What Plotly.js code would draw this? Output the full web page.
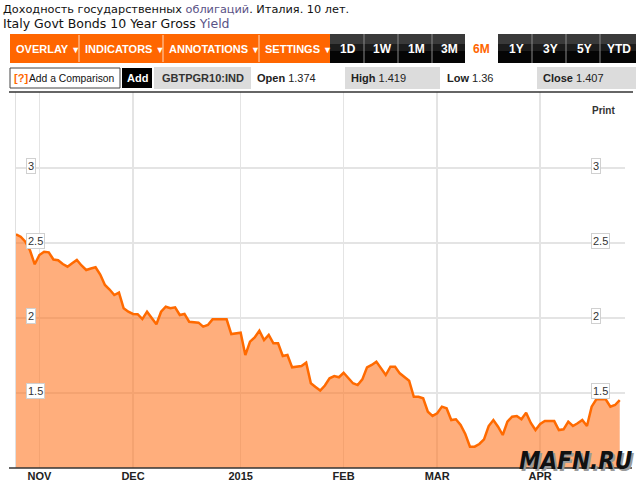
<!DOCTYPE html>
<html>
<head>
<meta charset="utf-8">
<script src="https://cdn.plot.ly/plotly-3.0.1.min.js"></script>
<style>
html,body{margin:0;padding:0;background:#fff;}
#chart{width:636px;height:487px;}
</style>
</head>
<body>
<div id="chart"></div>
<script>
// ---- data ----
const startDate = '2014-10-27';
const yieldValues = [
  2.558, 2.542, 2.509, 2.45, 2.358, 2.42, 2.442, 2.438, 2.39, 2.385,
  2.36, 2.342, 2.365, 2.387, 2.35, 2.32, 2.33, 2.338, 2.29, 2.22,
  2.19, 2.153, 2.169, 2.065, 2.042, 2.027, 2.025, 1.993, 2.042, 1.998,
  1.958, 2.042, 2.075, 2.065, 2.071, 2.02, 2.027, 1.975, 1.972, 1.969,
  1.942, 1.953, 1.991, 1.991, 1.991, 1.991, 1.893, 1.9, 1.902, 1.753,
  1.842, 1.871, 1.915, 1.853, 1.887, 1.831, 1.831, 1.747, 1.753, 1.671,
  1.675, 1.68, 1.702, 1.565, 1.54, 1.516, 1.55, 1.598, 1.613, 1.605,
  1.635, 1.598, 1.565, 1.553, 1.591, 1.671, 1.687, 1.709, 1.665, 1.62,
  1.675, 1.675, 1.631, 1.609, 1.582, 1.475, 1.475, 1.465, 1.375, 1.347,
  1.365, 1.409, 1.398, 1.32, 1.325, 1.287, 1.227, 1.142, 1.142, 1.16,
  1.191, 1.28, 1.32, 1.275, 1.22, 1.309, 1.342, 1.347, 1.325, 1.369,
  1.30, 1.253, 1.293, 1.313, 1.313, 1.313, 1.253, 1.258, 1.309, 1.28,
  1.298, 1.32, 1.28, 1.409, 1.458, 1.46, 1.458, 1.409, 1.42, 1.453
];
const monthTickDates = ['2014-11-03', '2014-12-01', '2015-01-01', '2015-02-02', '2015-03-02', '2015-04-01'];
const monthTickLabels = ['NOV', 'DEC', '2015', 'FEB', 'MAR', 'APR'];
const yTicks = [1.5, 2, 2.5, 3];
const yTickLabels = ['1.5', '2', '2.5', '3'];
const menuItems = ['OVERLAY', 'INDICATORS', 'ANNOTATIONS', 'SETTINGS'];
const periodButtons = ['1D', '1W', '1M', '3M', '6M', '1Y', '3Y', '5Y', 'YTD'];
const activePeriod = '6M';
const ticker = 'GBTPGR10:IND';
const quoteLabels = ['Open', 'High', 'Low', 'Close'];
const quoteValues = ['1.374', '1.419', '1.36', '1.407'];

// trading-day dates (weekdays) for the series
function tradingDays(start, n) {
  const out = [];
  const d = new Date(start + 'T00:00:00Z');
  while (out.length < n) {
    const w = d.getUTCDay();
    if (w !== 0 && w !== 6) out.push(d.toISOString().slice(0, 10));
    d.setUTCDate(d.getUTCDate() + 1);
  }
  return out;
}
const dates = tradingDays(startDate, yieldValues.length);

// ---- layout geometry helpers (pixel -> paper) ----
const W = 636, H = 487;
const M = {l: 16, r: 11, t: 92, b: 19};
const PW = W - M.l - M.r, PH = H - M.t - M.b;
const px = x => (x - M.l) / PW;
const py = y => (H - M.b - y) / PH;

const shapes = [];
const ann = [];
function rect(x0, y0, x1, y1, fill, line) {
  shapes.push({type: 'rect', xref: 'paper', yref: 'paper', x0: px(x0), x1: px(x1), y0: py(y1), y1: py(y0),
    fillcolor: fill, line: line || {width: 0}, layer: 'above'});
}
function hline(x0, x1, y, color, w) {
  shapes.push({type: 'line', xref: 'paper', yref: 'paper', x0: px(x0), x1: px(x1), y0: py(y), y1: py(y),
    line: {color: color, width: w}, layer: 'above'});
}
function vline(x, y0, y1, color, w) {
  shapes.push({type: 'line', xref: 'paper', yref: 'paper', x0: px(x), x1: px(x), y0: py(y0), y1: py(y1),
    line: {color: color, width: w}, layer: 'above'});
}
function text(t, x, y, opts) {
  opts = opts || {};
  ann.push(Object.assign({text: t, xref: 'paper', yref: 'paper', x: px(x), y: py(y), showarrow: false,
    xanchor: opts.xanchor || 'left', yanchor: 'middle',
    font: {family: opts.family || 'Liberation Sans, Arial, sans-serif', size: opts.size || 11, color: opts.color || '#222'}},
    opts.extra || {}));
}

// header
const purple = '#5a5386';
text('Доходность государственных <span style="color:' + purple + '">облигаций</span>. Италия. 10 лет.', 1, 9,
  {family: 'DejaVu Sans, Verdana, sans-serif', size: 11.3, color: '#111'});
text('Italy Govt Bonds 10 Year Gross <span style="color:' + purple + '">Yield</span>', 1, 24,
  {family: 'DejaVu Sans, Verdana, sans-serif', size: 12.5, color: '#111'});

// orange menu bar
rect(10, 34, 330, 63, '#ff6600');
const menuX = [[10, 79], [79, 163], [163, 259], [259, 330]];
menuItems.forEach((m, i) => {
  if (i > 0) vline(menuX[i][0], 35, 62, 'rgba(255,255,255,0.75)', 1);
  text('<b>' + m + '</b> <span style="font-size:9px">▼</span>', menuX[i][0] + 4, 49, {size: 11, color: '#fff'});
});

// period buttons
const btnX = [[330, 364], [364, 398], [398, 432], [432, 465], [465, 498], [498, 532], [532, 566], [566, 600], [600, 636]];
periodButtons.forEach((b, i) => {
  const [a, c] = btnX[i];
  if (b === activePeriod) {
    text('<b>' + b + '</b>', (a + c) / 2, 49, {size: 12, color: '#ff6600', xanchor: 'center'});
    return;
  }
  rect(a, 34, c, 63, '#050505');
  rect(a, 34, c, 44, '#3a3a3a');
  rect(a, 44, c, 51, '#1c1c1c');
  if (i > 0 && periodButtons[i - 1] !== activePeriod) vline(a, 34, 63, '#8a8a8a', 1);
  text('<b>' + b + '</b>', (a + c) / 2 + 1, 49, {size: 12, color: '#fff', xanchor: 'center'});
});

// info row
rect(10, 68, 120, 88, '#ffffff', {color: '#444', width: 1});
text('<b>[?]</b>', 12, 78, {size: 11, color: '#ff6600'});
text('Add a Comparison', 27, 78, {size: 10.3, color: '#111'});
rect(122, 68, 152, 88, '#000000');
text('<b>Add</b>', 137, 78, {size: 11, color: '#fff', xanchor: 'center'});
rect(154, 67, 251, 89, '#dcdcdc');
text('<b>' + ticker + '</b>', 160, 78, {size: 11, color: '#333'});
const quoteX = [255, 349, 445, 541];
const quoteBg = [null, [345, 440], null, [537, 636]];
quoteLabels.forEach((q, i) => {
  if (quoteBg[i]) rect(quoteBg[i][0], 67, quoteBg[i][1], 89, '#dcdcdc');
  text('<b>' + q + '</b> ' + quoteValues[i], quoteX[i], 78, {size: 11, color: '#222'});
});

// chart frame lines
hline(9, 633, 92, '#333', 1.5);
hline(9, 632, 468, '#333', 1.5);
text('<b>Print</b>', 590, 111, {size: 10, color: '#333'});

// y labels (boxed) on both sides
yTicks.forEach((v, i) => {
  [26, 591].forEach(xl => {
    ann.push({text: yTickLabels[i], xref: 'paper', yref: 'y', x: px(xl), y: v, yshift: 2.5,
      xanchor: 'left', yanchor: 'middle', showarrow: false, bgcolor: '#fff', bordercolor: '#d0d0d0',
      borderwidth: 1, borderpad: 1,
      font: {family: 'Liberation Sans, Arial, sans-serif', size: 11, color: '#333'}});
  });
});

// watermark
const wmFont = 'DejaVu Sans Condensed, Liberation Sans Narrow, sans-serif';
ann.push({text: '<b><i>MAFN.RU</i></b>', xref: 'paper', yref: 'paper', x: px(578), y: py(463), showarrow: false,
  xanchor: 'center', yanchor: 'middle', font: {family: wmFont, size: 24, color: '#9a9a9a'}});
ann.push({text: '<b><i>MAFN.RU</i></b>', xref: 'paper', yref: 'paper', x: px(576), y: py(461), showarrow: false,
  xanchor: 'center', yanchor: 'middle', font: {family: wmFont, size: 24, color: '#111'}});

const trace = {
  x: dates, y: yieldValues, type: 'scatter', mode: 'lines',
  line: {color: '#ff6a00', width: 2.5, shape: 'linear'},
  fill: 'tozeroy', fillcolor: 'rgba(255,115,30,0.58)',
  hoverinfo: 'skip'
};

const layout = {
  width: W, height: H,
  margin: M,
  paper_bgcolor: '#fff', plot_bgcolor: '#fff',
  showlegend: false,
  xaxis: {
    type: 'date',
    range: ['2014-10-27', '2015-04-27 03:00'],
    rangebreaks: [{bounds: ['sat', 'mon']}],
    tickmode: 'array', tickvals: monthTickDates, ticktext: monthTickLabels.map(t => '<b>' + t + '</b>'),
    showgrid: true, gridcolor: '#e4e4e4', gridwidth: 1.5,
    showline: false, zeroline: false, ticks: '',
    tickfont: {family: 'Liberation Sans, Arial, sans-serif', size: 11, color: '#222'},
    fixedrange: true
  },
  yaxis: {
    range: [1.0, 3.5067],
    tickmode: 'array', tickvals: yTicks, showticklabels: false,
    showgrid: true, gridcolor: '#e4e4e4', gridwidth: 1.5,
    showline: true, linecolor: '#e0e0e0', linewidth: 1.5,
    zeroline: false, ticks: '', fixedrange: true
  },
  shapes: shapes,
  annotations: ann
};

Plotly.newPlot('chart', [trace], layout, {displayModeBar: false, staticPlot: true});
</script>
</body>
</html>
